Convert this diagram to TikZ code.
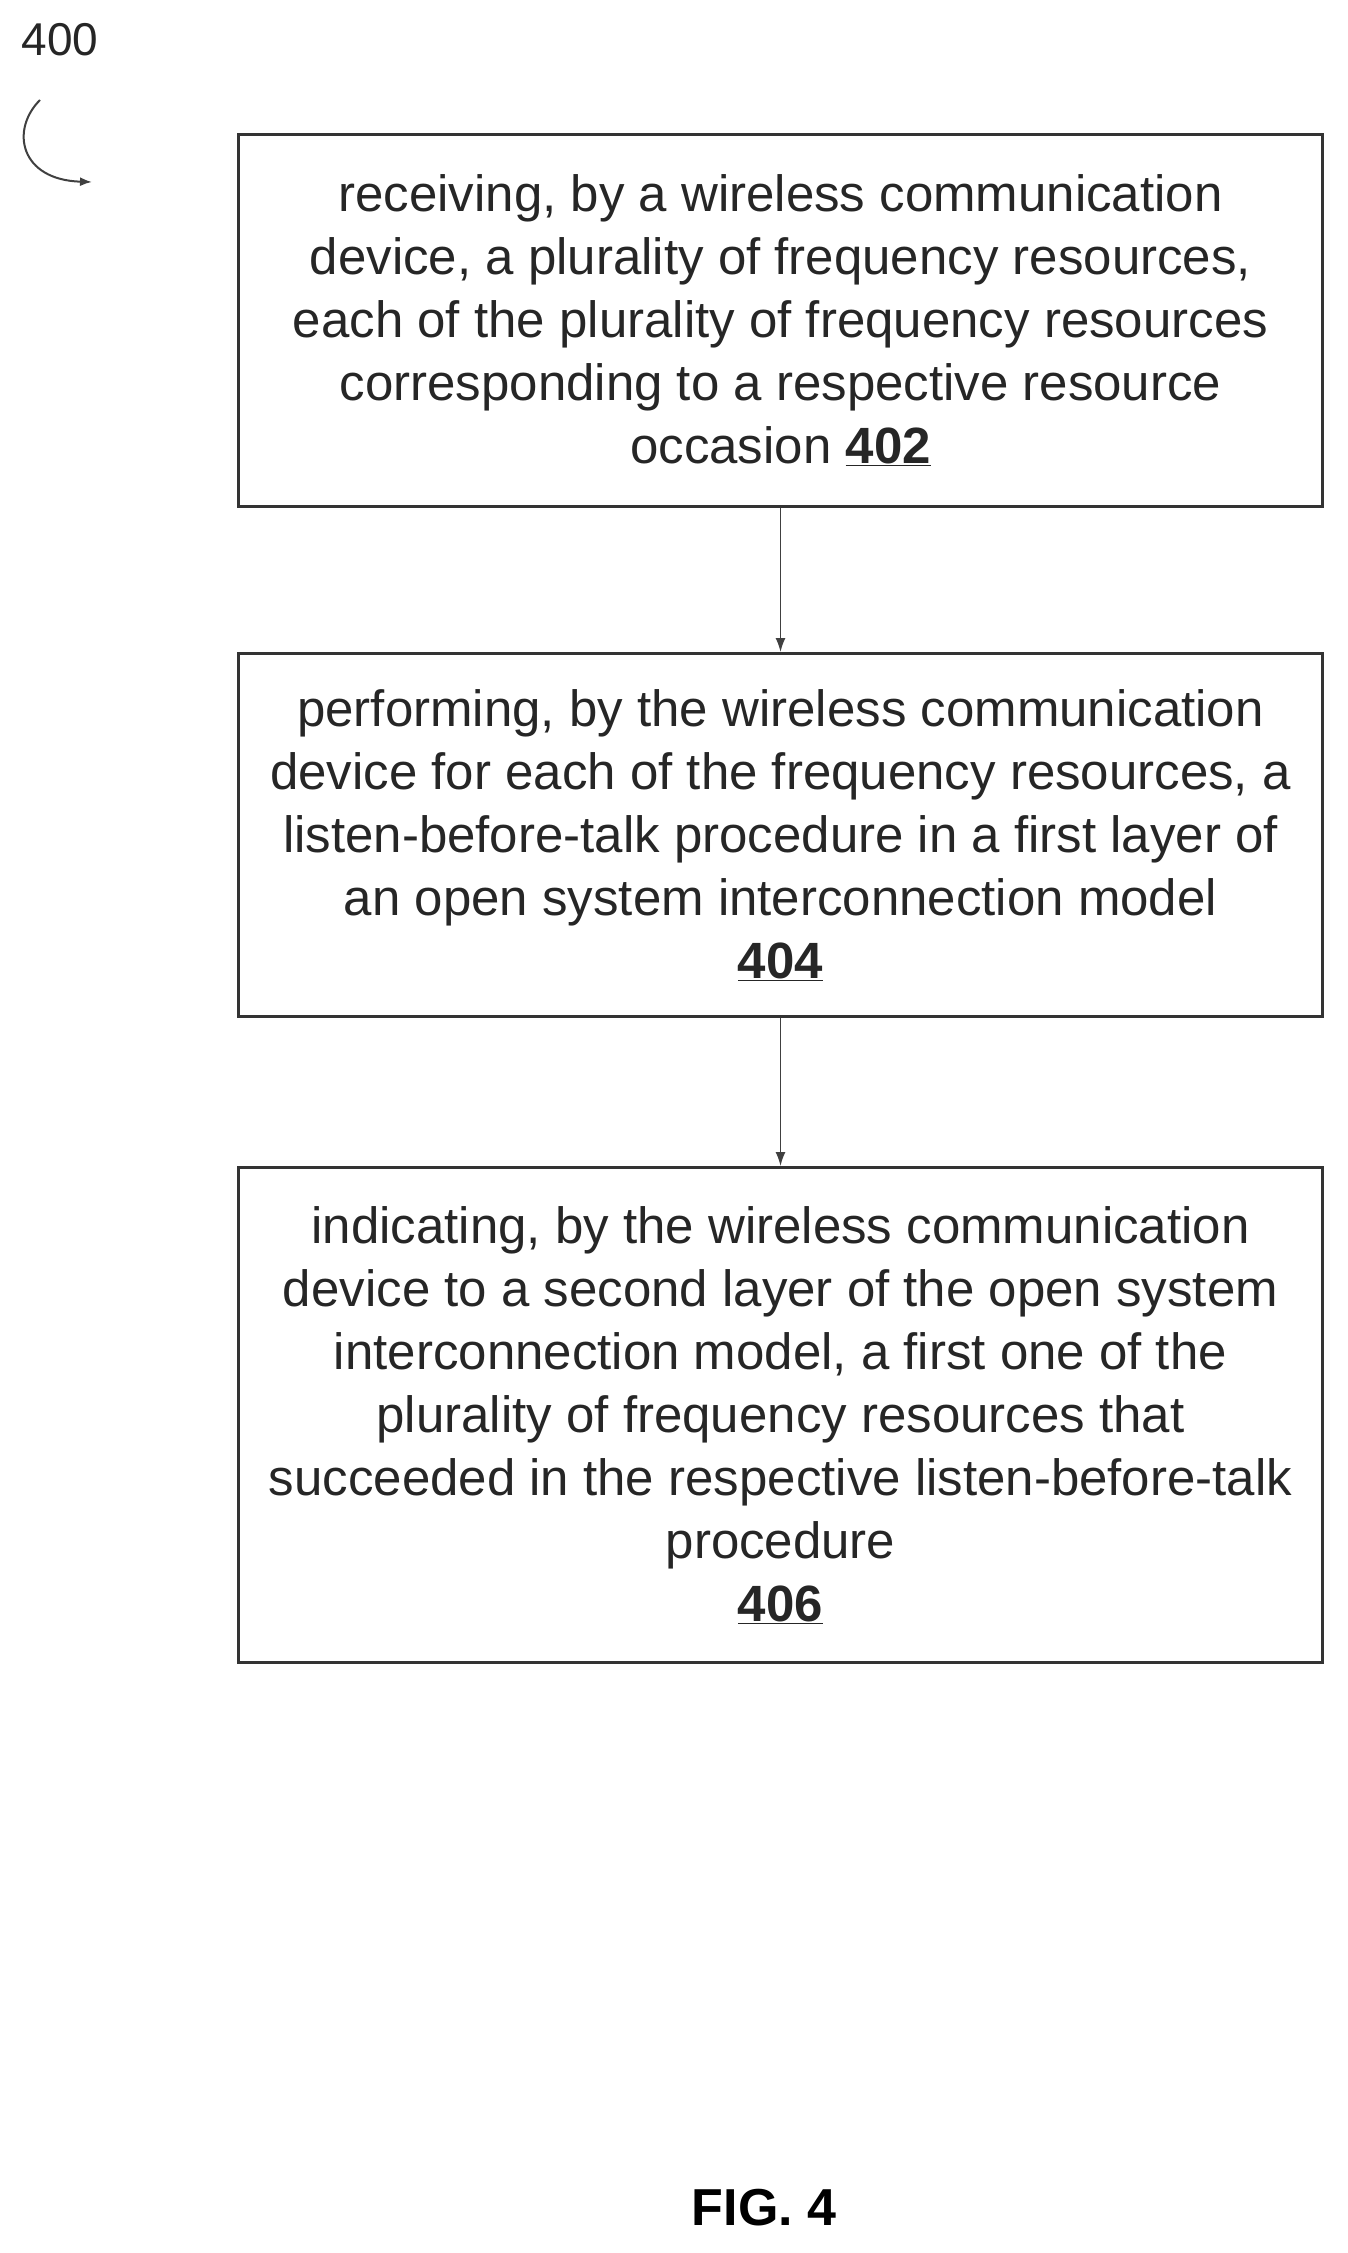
\documentclass[tikz,border=0pt]{standalone}
\usepackage{fontspec}
\setmainfont{Liberation Sans}
\usetikzlibrary{arrows.meta}
\begin{document}
\begin{tikzpicture}[x=1pt,y=-1pt,
  stepbox/.style={draw=black!80,line width=3pt,minimum width=1084pt,anchor=north west,align=center,
    font=\fontsize{51}{63}\selectfont,text=black!85,inner sep=0pt},
  conn/.style={draw=black!75,line width=1.5pt,-{Latex[length=14pt,width=10pt]}}]
\useasboundingbox (0,0) rectangle (1348,2253);
\node[stepbox,minimum height=372pt] (a) at (237,133) {receiving, by a wireless communication\\device, a plurality of frequency resources,\\each of the plurality of frequency resources\\corresponding to a respective resource\\occasion \textbf{\underline{402}}};
\node[stepbox,minimum height=363pt] (b) at (237,652) {performing, by the wireless communication\\device for each of the frequency resources, a\\listen-before-talk procedure in a first layer of\\an open system interconnection model\\\textbf{\underline{404}}};
\node[stepbox,minimum height=495pt] (c) at (237,1166) {indicating, by the wireless communication\\device to a second layer of the open system\\interconnection model, a first one of the\\plurality of frequency resources that\\succeeded in the respective listen-before-talk\\procedure\\\textbf{\underline{406}}};
\draw[conn] (a.south) -- (b.north);
\draw[conn] (b.south) -- (c.north);
\node[font=\fontsize{46}{50}\selectfont,text=black!85] (n) at (60,40) {400};
\coordinate (s) at (40,100);
\coordinate (e) at (92,182);
\draw[black!75,line width=2pt,-{Latex[length=12pt,width=9pt]}] (s) .. controls (10,130) and (20,180) .. (e);
\node[font=\bfseries\fontsize{52}{60}\selectfont] (f) at (764,2208) {FIG. 4};
\end{tikzpicture}
\end{document}
